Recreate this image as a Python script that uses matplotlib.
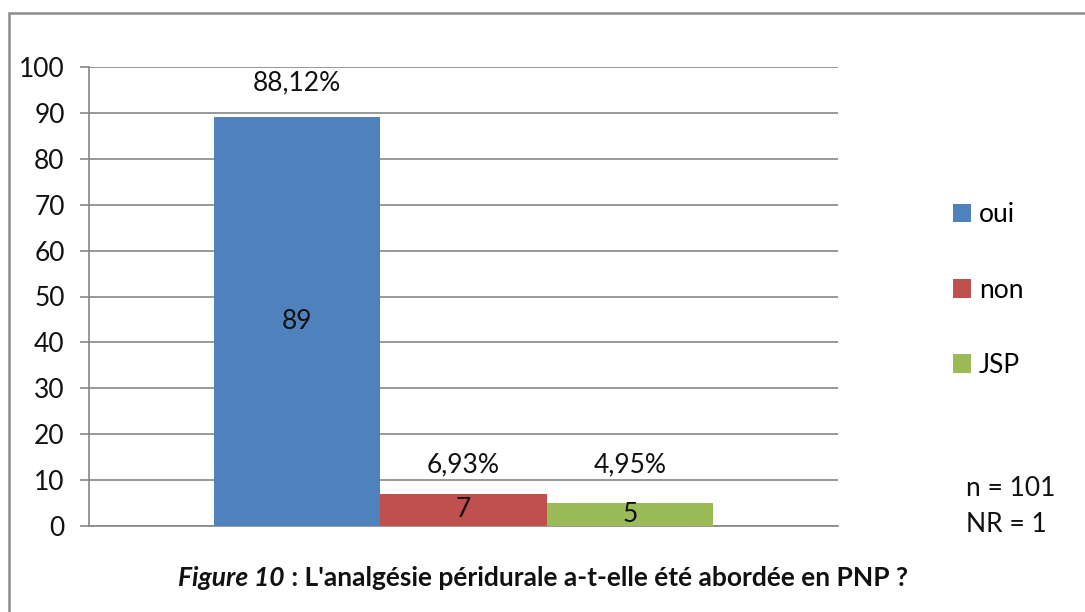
import matplotlib
matplotlib.use("Agg")
import matplotlib.pyplot as plt
from matplotlib.patches import Rectangle

plt.rcParams['font.family'] = ['Lato', 'DejaVu Sans']

categories = ["oui", "non", "JSP"]
values = [89, 7, 5]
percent_labels = ["88,12%", "6,93%", "4,95%"]
percent_label_y = [96.5, 13.3, 13.3]
colors = ["#4F81BD", "#C0504D", "#9BBB59"]
yticks = list(range(0, 101, 10))
notes = ["n = 101", "NR = 1"]
title_italic = "Figure 10"
title_rest = " : L'analgésie péridurale a-t-elle été abordée en PNP ?"

W, H = 1085, 612
fig = plt.figure(figsize=(W / 100, H / 100), dpi=100)
ax = fig.add_axes([89 / W, 1 - 526 / H, (838 - 89) / W, (526 - 67) / H])

bw = 0.2225
offsets = [-bw, 0, bw]
grid_c = "#868686"
fs = 19
tc = "#111111"

for cat, v, c, off, pl, py in zip(categories, values, colors, offsets, percent_labels, percent_label_y):
    ax.bar(off, v, width=bw, color=c, label=cat, zorder=3)
    ax.text(off, v / 2, str(v), ha="center", va="center", fontsize=fs, color=tc, zorder=4)
    ax.text(off, py, pl, ha="center", va="center", fontsize=fs, color=tc, zorder=4)

ax.set_xlim(-0.5, 0.5)
ax.set_ylim(0, 100)
ax.set_yticks(yticks)
ax.set_xticks([])
ax.yaxis.grid(True, color=grid_c, linewidth=1.2, zorder=0)
ax.set_axisbelow(True)
for s in ["top", "right"]:
    ax.spines[s].set_visible(False)
ax.spines["left"].set_color(grid_c)
ax.spines["left"].set_linewidth(1.2)
ax.spines["bottom"].set_color(grid_c)
ax.spines["bottom"].set_linewidth(1.2)
ax.tick_params(axis="y", direction="out", length=6.5, width=1.2, color=grid_c,
               labelsize=fs, labelcolor=tc, pad=11)

# legend
handles, labels = ax.get_legend_handles_labels()
leg = fig.legend(handles, labels, loc="center left", bbox_to_anchor=(942 / W, 1 - 290 / H),
                 frameon=False, fontsize=fs, handlelength=0.7, handleheight=0.7,
                 handletextpad=0.3, labelspacing=1.9, borderaxespad=0)

fig.text(966 / W, 1 - 489 / H, notes[0], ha="left", va="center", fontsize=fs, color=tc)
fig.text(966 / W, 1 - 524 / H, notes[1], ha="left", va="center", fontsize=fs, color=tc)

# title: italic part + bold rest, centred as a whole
t1 = fig.text(0, 1 - 578 / H, title_italic, ha="left", va="center", fontsize=fs,
              fontweight="bold", fontstyle="italic", color=tc)
t2 = fig.text(0, 1 - 578 / H, title_rest, ha="left", va="center", fontsize=fs,
              fontweight="bold", color=tc)
fig.canvas.draw()
r = fig.canvas.get_renderer()
w1 = t1.get_window_extent(r).width
w2 = t2.get_window_extent(r).width
x0 = 543 - (w1 + w2) / 2
t1.set_x(x0 / W)
t2.set_x((x0 + w1) / W)

# outer border
fig.patches.append(Rectangle((8.5 / W, -0.1), 1.2, 1 - 13 / H + 0.1, transform=fig.transFigure,
                             fill=False, edgecolor="#8c8c8c", linewidth=1.8))

fig.savefig("out.png", dpi=100)
